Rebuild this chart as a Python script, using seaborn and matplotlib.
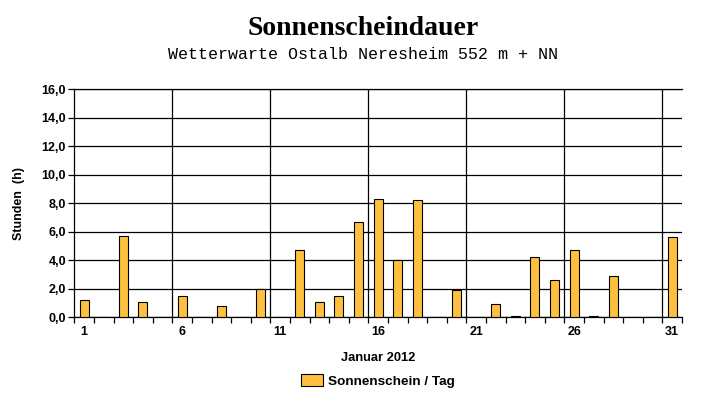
import numpy as np
import pandas as pd
import matplotlib
matplotlib.use("Agg")
import matplotlib.pyplot as plt
import seaborn as sns
from matplotlib.patches import Patch

# ========== Daten: Sonnenscheindauer Januar 2012 ==========
tage = [str(d) for d in range(1, 32)]
stunden = [1.2, 0.0, 5.7, 1.1, 0.0, 1.5, 0.0, 0.8, 0.0, 2.0,
           0.0, 4.7, 1.1, 1.5, 6.7, 8.3, 4.0, 8.2, 0.0, 1.9,
           0.0, 0.9, 0.1, 4.2, 2.6, 4.7, 0.1, 2.9, 0.0, 0.0,
           5.6]
y_ticks = [0, 2, 4, 6, 8, 10, 12, 14, 16]
x_label_tage = ["1", "6", "11", "16", "21", "26", "31"]

titel = "Sonnenscheindauer"
untertitel = "Wetterwarte Ostalb Neresheim 552 m + NN"
legende = "Sonnenschein / Tag"

BAR_COLOR = "#FFC040"

sns.set_style("white")
plt.rcParams["font.family"] = ["Liberation Sans", "DejaVu Sans"]
# alles in reinem Schwarz, wie im Original
for key in ["text.color", "axes.labelcolor", "xtick.color", "ytick.color"]:
    plt.rcParams[key] = "black"

df = pd.DataFrame({"Tag": tage, "Stunden": stunden})

fig = plt.figure(figsize=(7.27, 4.04), dpi=100)
ax = fig.add_axes([0.1022, 0.2146, 0.8358, 0.5644])

sns.barplot(data=df, x="Tag", y="Stunden", color=BAR_COLOR, edgecolor="black",
            linewidth=0.8, width=0.46, saturation=1, ax=ax, zorder=3)

ax.set_xlim(-0.5, 30.5)
ax.set_ylim(0, 16)

# horizontale Gitterlinien
ax.set_yticks(y_ticks)
ax.set_yticklabels([f"{v:.1f}".replace(".", ",") for v in y_ticks],
                   fontsize=9, fontweight="bold")
ax.yaxis.grid(True, color="black", linewidth=0.9)
ax.set_axisbelow(True)

# vertikale Linien an den Tagesgrenzen 6, 11, 16, ...
for k in range(5, 31, 5):
    ax.axvline(k - 0.5, color="black", linewidth=0.9, zorder=1)

ax.set_xticks(range(0, 31, 5))
ax.set_xticklabels(x_label_tage, fontsize=9, fontweight="bold")
ax.set_xticks(np.arange(-0.5, 31, 1), minor=True)
ax.tick_params(axis="x", which="major", length=0, pad=6)
ax.tick_params(axis="x", which="minor", length=4, width=0.9, direction="out",
               color="black", bottom=True)
ax.tick_params(axis="y", length=4, width=0.9, direction="out", color="black",
               left=True, pad=2)

for side in ["left", "bottom", "top"]:
    ax.spines[side].set_color("black")
    ax.spines[side].set_linewidth(0.9)
ax.spines["right"].set_visible(False)

ax.set_xlabel("Januar 2012", fontsize=9.3, fontweight="bold", labelpad=10)
ax.set_ylabel("Stunden  (h)", fontsize=9, fontweight="bold", labelpad=12)

fig.text(0.5, 0.93, titel, ha="center", va="center", fontsize=20,
         fontweight="bold", family="Liberation Serif")
fig.text(0.5, 0.866, untertitel, ha="center", va="center", fontsize=12,
         family="Liberation Mono")

handle = Patch(facecolor=BAR_COLOR, edgecolor="black", linewidth=0.8)
fig.legend([handle], [legende], loc="center", bbox_to_anchor=(0.52, 1 - 381 / 404),
           frameon=False, prop={"size": 9.7, "weight": "bold"},
           handlelength=1.6, handleheight=1.0, handletextpad=0.4)

fig.savefig("out.png", dpi=100)
